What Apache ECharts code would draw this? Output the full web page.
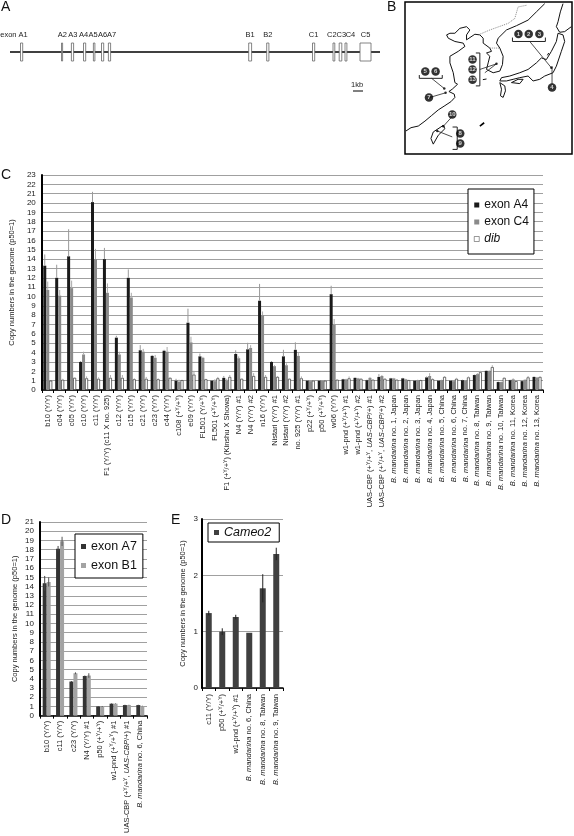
<!doctype html>
<html>
<head>
<meta charset="utf-8">
<style>html,body{margin:0;padding:0;background:#fff}#main{width:574px;height:836px}</style>
</head>
<body>
<div id="main"></div>
<script src="https://cdn.jsdelivr.net/npm/echarts@6/dist/echarts.min.js"></script>
<script>
var FONT = '"Liberation Sans", Arial, sans-serif';

// panel A: exons in kb from the start of the line
var exonNames = ['exon A1', 'A2', 'A3', 'A4', 'A5', 'A6', 'A7', 'B1', 'B2', 'C1', 'C2', 'C3', 'C4', 'C5'];
var exonStart = [1.05, 5.15, 6.14, 7.35, 8.34, 9.15, 9.84, 23.87, 25.67, 30.25, 32.3, 32.92, 33.5, 35.0];
var exonEnd = [1.27, 5.26, 6.36, 7.57, 8.49, 9.37, 10.06, 24.16, 25.89, 30.47, 32.48, 33.18, 33.69, 36.1];
var exonLabelAt = [0.4, 5.23, 6.29, 7.35, 8.3, 9.26, 10.17, 24.0, 25.78, 30.36, 32.19, 33.14, 34.05, 35.56];
var geneLength = 37;

// panel B: outline of the map, traced in map units
var coastChina = [[93,392],[108,382],[130,377],[150,362],[170,345],[190,328],[210,315],[228,303],[240,290],[238,280],[222,272],[232,265],[248,250],[240,245],[235,215],[225,185],[225,165],[250,150],[270,135],[265,125],[240,120],[220,110],[215,100],[225,95],[240,95],[255,80],[275,75],[285,85],[275,100],[275,115],[300,98],[315,100],[325,110],[325,125],[345,140],[350,150],[335,155],[345,165],[340,185],[335,205],[355,215],[375,210],[383,190],[385,165],[375,140],[365,125],[370,110],[395,85],[425,72],[460,55],[485,30],[510,5]];
var coastHonshu = [[550,95],[565,100],[570,120],[560,150],[545,195],[535,215],[510,225],[495,235],[475,240],[460,225],[435,230],[415,235],[395,240],[375,240],[380,230],[405,225],[435,215],[460,205],[485,185],[500,170],[515,175],[530,150],[545,120],[550,95]];
var coastHokkaido = [[565,5],[557,30],[550,60],[545,75],[555,92],[570,90],[590,75]];
var coastKyushu = [[375,245],[390,255],[392,270],[385,290],[377,285],[380,265],[375,245]];
var coastShikoku = [[410,245],[430,235],[445,235],[435,248],[410,245]];
var coastTaiwan = [[205,375],[175,395],[168,415],[175,432],[190,405],[210,385],[205,375]];
var coastRyukyu = [[315,377],[328,367]];
var coastJeju = [[324,236],[335,234]];
var coastSado = [[518,162],[522,155]];
var borderNorth = [[315,98],[345,85],[400,65],[420,50],[430,15],[455,10]];
var borderKorea = [[345,140],[375,140]];
var brackets = [
  [[413,108],[413,120],[512,120],[512,108]],
  [[133,222],[133,232],[202,232],[202,222]],
  [[303,155],[315,155],[315,255],[303,255]],
  [[233,380],[247,380],[247,448],[233,448]]
];
var leaders = [
  [[465,120],[530,200]], [[532,195],[532,250]], [[170,232],[208,263]], [[165,290],[212,276]],
  [[315,205],[365,188]], [[330,215],[365,188]], [[230,350],[205,378]], [[232,410],[187,392]]
];
var siteDotX = [530, 208, 212, 365, 205, 187];
var siteDotY = [200, 263, 276, 188, 378, 392];
var siteNumbers = [1, 2, 3, 4, 5, 6, 7, 8, 9, 10, 11, 12, 13];
var siteX = [431, 462, 494, 532, 151, 182, 162, 256, 256, 232, 293, 293, 293];
var siteY = [97, 97, 97, 260, 211, 211, 290, 400, 430, 342, 175, 205, 236];

// panel C
var strainsC = ['b10 (Y/Y)', 'c04 (Y/Y)', 'c05 (Y/Y)', 'c10 (Y/Y)', 'c11 (Y/Y)', 'F1 (Y/Y) (c11 X no. 925)', 'c12 (Y/Y)', 'c15 (Y/Y)', 'c21 (Y/Y)', 'c23 (Y/Y)', 'c44 (Y/Y)', 'c108 (+^Y/+^Y)', 'e09 (Y/Y)', 'FL501 (Y/+^Y)', 'FL501 (+^Y/+^Y)', 'F1 (+^Y/+^Y) (Kinshu X Showa)', 'N4 (Y/Y) #1', 'N4 (Y/Y) #2', 'n16 (Y/Y)', 'Nistari (Y/Y) #1', 'Nistari (Y/Y) #2', 'no. 925 (Y/Y) #1', 'p22 (+^Y/+^Y)', 'p50 (+^Y/+^Y)', 'w06 (Y/Y)', 'w1-pnd (+^Y/+^Y) #1', 'w1-pnd (+^Y/+^Y) #2', 'UAS-CBP (+^Y/+^Y, UAS-CBP/+) #1', 'UAS-CBP (+^Y/+^Y, UAS-CBP/+) #2', 'B. mandarina no. 1, Japan', 'B. mandarina no. 2, Japan', 'B. mandarina no. 3, Japan', 'B. mandarina no. 4, Japan', 'B. mandarina no. 5, China', 'B. mandarina no. 6, China', 'B. mandarina no. 7, China', 'B. mandarina no. 8, Taiwan', 'B. mandarina no. 9, Taiwan', 'B. mandarina no. 10, Taiwan', 'B. mandarina no. 11, Korea', 'B. mandarina no. 12, Korea', 'B. mandarina no. 13, Korea'];
var exonA4 = [13.3, 12, 14.3, 3, 20.1, 14, 5.6, 12, 4.25, 3.65, 4.2, 1, 7.2, 3.6, 1, 1.3, 3.85, 4.35, 9.55, 3, 3.6, 4.3, 1, 1, 10.25, 1.15, 1.3, 1.05, 1.4, 1.25, 1.25, 1, 1.35, 1, 1, 1.05, 1.6, 2.05, 0.85, 1.05, 0.95, 1.4];
var exonC4 = [10.7, 10.1, 10.9, 3.8, 14, 10.4, 3.8, 9.9, 4.1, 3.45, 4.1, 0.9, 5.1, 3.45, 0.95, 1, 3.4, 4.5, 8, 2.55, 2.65, 3.65, 0.95, 1, 7, 1.15, 1.25, 1.3, 1.5, 1.25, 1.15, 1.05, 1.5, 1.05, 0.95, 1, 1.7, 2.05, 0.85, 1.15, 1.1, 1.35];
var dib = [1, 1.1, 1.3, 1.25, 1.2, 1.3, 1.3, 1.15, 1.2, 1.15, 1.3, 1.05, 1.65, 1.15, 1.25, 1.4, 1.2, 1.5, 1.4, 1.4, 1.2, 1.25, 1, 1, 1.1, 1.25, 1.2, 1.1, 1.2, 1.1, 1.05, 1.05, 1.15, 1.4, 1.2, 1.35, 1.9, 2.45, 1.3, 0.95, 1.35, 1.4];
var errA4 = [1.2, 1.4, 2.9, 0.1, 1.1, 1.2, 0.2, 0.9, 0.55, 0.1, 0.1, 0.2, 1.5, 0.3, 0.05, 0.2, 0.4, 0.7, 1.8, 0.1, 0.7, 0.8, 0.05, 0.05, 0.9, 0.05, 0.05, 0.05, 0.3, 0.05, 0.05, 0.05, 0.1, 0.05, 0.05, 0.05, 0.05, 0.05, 0.05, 0.05, 0.05, 0.05];
var errC4 = [0.9, 0.6, 0.8, 0.3, 1.1, 1, 0.3, 0.5, 0.3, 0.3, 0.5, 0.2, 0.6, 0.1, 0.2, 0.2, 0.2, 0.3, 0.4, 0.1, 0.2, 0.3, 0.05, 0.05, 0.6, 0.05, 0.05, 0.1, 0.1, 0.05, 0.05, 0.05, 0.3, 0.05, 0.05, 0.05, 0.1, 0.05, 0.05, 0.1, 0.05, 0.05];
var errDib = [0, 0.1, 0.05, 0.2, 0.15, 0.3, 0.3, 0.1, 0.2, 0.1, 0.05, 0.05, 0.4, 0.05, 0.15, 0.2, 0.05, 0.3, 0.2, 0.1, 0.05, 0.2, 0.05, 0.05, 0.05, 0.2, 0.05, 0.05, 0.05, 0.05, 0.05, 0.05, 0.1, 0.1, 0.1, 0.1, 0.15, 0.2, 0.05, 0.05, 0.15, 0.05];

// panel D
var strainsD = ['b10 (Y/Y)', 'c11 (Y/Y)', 'c23 (Y/Y)', 'N4 (Y/Y) #1', 'p50 (+^Y/+^Y)', 'w1-pnd (+^Y/+^Y) #1', 'UAS-CBP (+^Y/+^Y, UAS-CBP/+) #1', 'B. mandarina no. 6, China'];
var exonA7 = [14.35, 18.1, 3.7, 4.3, 1, 1.3, 1.15, 1.15];
var exonB1 = [14.5, 18.9, 4.6, 4.35, 1, 1.3, 1.15, 1.05];
var errA7 = [0.8, 0.3, 0.05, 0.05, 0.05, 0.03, 0.03, 0.03];
var errB1 = [0.5, 0.5, 0.1, 0.25, 0.05, 0.03, 0.03, 0.03];

// panel E
var strainsE = ['c11 (Y/Y)', 'p50 (+^Y/+^Y)', 'w1-pnd (+^Y/+^Y) #1', 'B. mandarina no. 6, China', 'B. mandarina no. 8, Taiwan', 'B. mandarina no. 9, Taiwan'];
var cameo2 = [1.33, 1, 1.26, 0.98, 1.77, 2.38];
var errCameo = [0.04, 0.06, 0.04, 0, 0.25, 0.11];

var chart = echarts.init(document.getElementById('main'));

function strainLabel(name) {
    return name.replace(/UAS-CBP\/\+/g, '{i|UAS-CBP}/+')
        .replace(/^B\. mandarina/, '{i|B. mandarina}')
        .replace(/\^Y/g, '{s|Y}');
}

var labelRich = {
    i: {fontFamily: FONT, fontStyle: 'italic', fontSize: 7.5, color: '#222'},
    s: {fontFamily: FONT, fontSize: 5, color: '#222', verticalAlign: 'top'}
};

var grids = [], xAxes = [], yAxes = [], series = [];

function addGrid(g, x, y) {
    grids.push(g);
    x.gridIndex = grids.length - 1;
    y.gridIndex = grids.length - 1;
    xAxes.push(x);
    yAxes.push(y);
    return grids.length - 1;
}

function hiddenAxis(min, max, inverse) {
    return {type: 'value', min: min, max: max, inverse: !!inverse, show: false, splitLine: {show: false}};
}

function barGrid(rect, names, max, nameGap, margin, tickMargin) {
    return addGrid(rect, {
        type: 'category',
        data: names,
        axisLine: {lineStyle: {color: '#000', width: 1.5}},
        axisTick: {show: true, length: 3, lineStyle: {color: '#000', width: 1}},
        axisLabel: {interval: 0, rotate: 90, margin: margin, fontFamily: FONT, fontSize: 7.5, color: '#222', formatter: strainLabel, rich: labelRich}
    }, {
        type: 'value',
        min: 0,
        max: max,
        interval: 1,
        name: 'Copy numbers in the genome (p50=1)',
        nameLocation: 'middle',
        nameGap: nameGap,
        nameTextStyle: {fontFamily: FONT, fontSize: 7.5, color: '#222'},
        axisLine: {show: true, lineStyle: {color: '#000', width: 2}},
        axisTick: {show: false},
        axisLabel: {margin: tickMargin, fontFamily: FONT, fontSize: 8, color: '#222', showMinLabel: true, showMaxLabel: true, hideOverlap: false},
        splitLine: {show: true, lineStyle: {color: '#a0a0a0', width: 1, type: 'solid'}}
    });
}

function addBar(idx, name, values, barWidth, style) {
    series.push({
        type: 'bar', name: name, xAxisIndex: idx, yAxisIndex: idx,
        data: values, barWidth: barWidth, barGap: 0, itemStyle: style, silent: true, animation: false, z: 3
    });
}

// error bars: offset is counted in pixels from the middle of the category
function addError(idx, values, errors, offset, color, both) {
    series.push({
        type: 'custom', xAxisIndex: idx, yAxisIndex: idx, silent: true, animation: false, z: 4,
        data: values.map(function (v, i) { return [i, v, errors[i]]; }),
        renderItem: function (params, api) {
            var top = api.coord([api.value(0), api.value(1) + api.value(2)]);
            var low = api.coord([api.value(0), api.value(1) - (both ? api.value(2) : 0)]);
            return {
                type: 'line',
                shape: {x1: top[0] + offset, y1: top[1], x2: low[0] + offset, y2: low[1]},
                style: {stroke: color, lineWidth: 1}
            };
        }
    });
}

// panel A
var geneIdx = addGrid({left: 10, top: 25, width: 370, height: 70}, hiddenAxis(0, geneLength), hiddenAxis(0, 70, true));
series.push({
    type: 'line', xAxisIndex: geneIdx, yAxisIndex: geneIdx, showSymbol: false, silent: true, animation: false,
    data: [[0, 27], [geneLength, 27]], lineStyle: {color: '#000', width: 1.3}
});
series.push({
    type: 'custom', xAxisIndex: geneIdx, yAxisIndex: geneIdx, silent: true, animation: false, z: 4,
    data: exonStart.map(function (s, i) { return [s, exonEnd[i]]; }),
    renderItem: function (params, api) {
        var a = api.coord([api.value(0), 18]);
        var b = api.coord([api.value(1), 36]);
        return {
            type: 'rect',
            shape: {x: a[0], y: a[1], width: b[0] - a[0], height: b[1] - a[1]},
            style: {fill: '#fff', stroke: '#666', lineWidth: 0.8}
        };
    }
});
series.push({
    type: 'custom', xAxisIndex: geneIdx, yAxisIndex: geneIdx, silent: true, animation: false,
    data: exonLabelAt.map(function (x) { return [x]; }),
    renderItem: function (params, api) {
        var p = api.coord([api.value(0), 10]);
        return {
            type: 'text',
            style: {x: p[0], y: p[1], text: exonNames[params.dataIndex], fill: '#222', font: '7.5px ' + FONT, textAlign: 'center', textVerticalAlign: 'middle'}
        };
    }
});
// 1 kb scale bar
series.push({
    type: 'line', xAxisIndex: geneIdx, yAxisIndex: geneIdx, showSymbol: false, silent: true, animation: false,
    data: [[34.3, 66], [35.3, 66]], lineStyle: {color: '#000', width: 1}
});

// panel B
var mapIdx = addGrid({left: 405, top: 2, width: 167, height: 152, show: true, borderColor: '#000', borderWidth: 1.5, backgroundColor: 'transparent'},
    hiddenAxis(90, 592), hiddenAxis(0, 462, true));

function addPath(points, color, width, type) {
    series.push({
        type: 'line', xAxisIndex: mapIdx, yAxisIndex: mapIdx, showSymbol: false, silent: true, animation: false,
        data: points, lineStyle: {color: color, width: width, type: type || 'solid'}, z: 3
    });
}
[coastChina, coastHonshu, coastHokkaido, coastKyushu, coastShikoku, coastTaiwan, coastJeju, coastSado].forEach(function (p) { addPath(p, '#111', 1); });
addPath(coastRyukyu, '#000', 1.6);
addPath(borderNorth, '#888', 1, 'dotted');
addPath(borderKorea, '#888', 1, 'dotted');
brackets.forEach(function (p) { addPath(p, '#222', 1); });
leaders.forEach(function (p) { addPath(p, '#222', 0.8); });
series.push({
    type: 'scatter', xAxisIndex: mapIdx, yAxisIndex: mapIdx, silent: true, animation: false, z: 5,
    data: siteDotX.map(function (x, i) { return [x, siteDotY[i]]; }),
    symbol: 'circle', symbolSize: 2.5, itemStyle: {color: '#000'}
});
series.push({
    type: 'scatter', xAxisIndex: mapIdx, yAxisIndex: mapIdx, silent: true, animation: false, z: 5,
    data: siteNumbers.map(function (n, i) { return [siteX[i], siteY[i], n]; }),
    symbol: 'circle', symbolSize: 8.5, itemStyle: {color: '#000'},
    label: {show: true, position: 'inside', formatter: function (p) { return p.value[2]; }, color: '#fff', fontFamily: FONT, fontSize: 6, fontWeight: 'bold'}
});

// panel C
var idxC = barGrid({left: 40, top: 175, width: 503, height: 215}, strainsC, 23, 21, 5, 6);
addBar(idxC, 'exon A4', exonA4, 3, {color: '#1a1a1a'});
addBar(idxC, 'exon C4', exonC4, 3, {color: '#8a8a8a'});
addBar(idxC, 'dib', dib, 3, {color: '#fff', borderColor: '#333', borderWidth: 0.7});
addError(idxC, exonA4, errA4, -3, '#999');
addError(idxC, exonC4, errC4, 0, '#aaa');
addError(idxC, dib, errDib, 3, '#aaa');

// panel D
var idxD = barGrid({left: 40, top: 522, width: 107, height: 197}, strainsD, 21, 21, 5, 6);
addBar(idxD, 'exon A7', exonA7, 4, {color: '#333'});
addBar(idxD, 'exon B1', exonB1, 4, {color: '#a3a3a3'});
addError(idxD, exonA7, errA7, -2, '#444', true);
addError(idxD, exonB1, errB1, 2, '#555', true);

// panel E
var idxE = barGrid({left: 202, top: 519, width: 81, height: 169}, strainsE, 3, 15, 6, 4);
addBar(idxE, 'Cameo2', cameo2, 6, {color: '#404040'});
addError(idxE, cameo2, errCameo, 0, '#222', true);

function boxLegend(names, left, top, size, gap, padding, mark) {
    return {
        data: names, orient: 'vertical', left: left, top: top, itemWidth: mark, itemHeight: mark, itemGap: gap,
        padding: padding, backgroundColor: '#fff', borderColor: '#000', borderWidth: 1, z: 10,
        selectedMode: false, icon: 'rect',
        itemStyle: {borderWidth: 0.5},
        textStyle: {fontFamily: FONT, fontSize: size, color: '#111', rich: {i: {fontFamily: FONT, fontStyle: 'italic', fontSize: size, color: '#111'}}},
        formatter: function (n) { return (n === 'dib' || n === 'Cameo2') ? '{i|' + n + '}' : n; }
    };
}

function letter(text, x, y) {
    return {type: 'text', left: x, top: y, style: {text: text, fontFamily: FONT, fontSize: 14, fill: '#111'}};
}

chart.setOption({
    animation: false,
    backgroundColor: '#fff',
    grid: grids,
    xAxis: xAxes,
    yAxis: yAxes,
    series: series,
    legend: [
        boxLegend(['exon A4', 'exon C4', 'dib'], 468, 189, 12, 5, [10, 5, 9, 6], 5),
        boxLegend(['exon A7', 'exon B1'], 75, 534, 12.5, 6, [6, 6, 6, 6], 5),
        boxLegend(['Cameo2'], 208, 523, 12.5, 5, [3, 8, 3, 6], 5)
    ],
    graphic: [
        letter('A', 1, 0),
        letter('B', 387, 0),
        letter('C', 1, 168),
        letter('D', 1, 513),
        letter('E', 171, 513),
        {type: 'text', left: 351, top: 81, style: {text: '1kb', fontFamily: FONT, fontSize: 7.5, fill: '#222'}}
    ]
});
</script>
</body>
</html>
